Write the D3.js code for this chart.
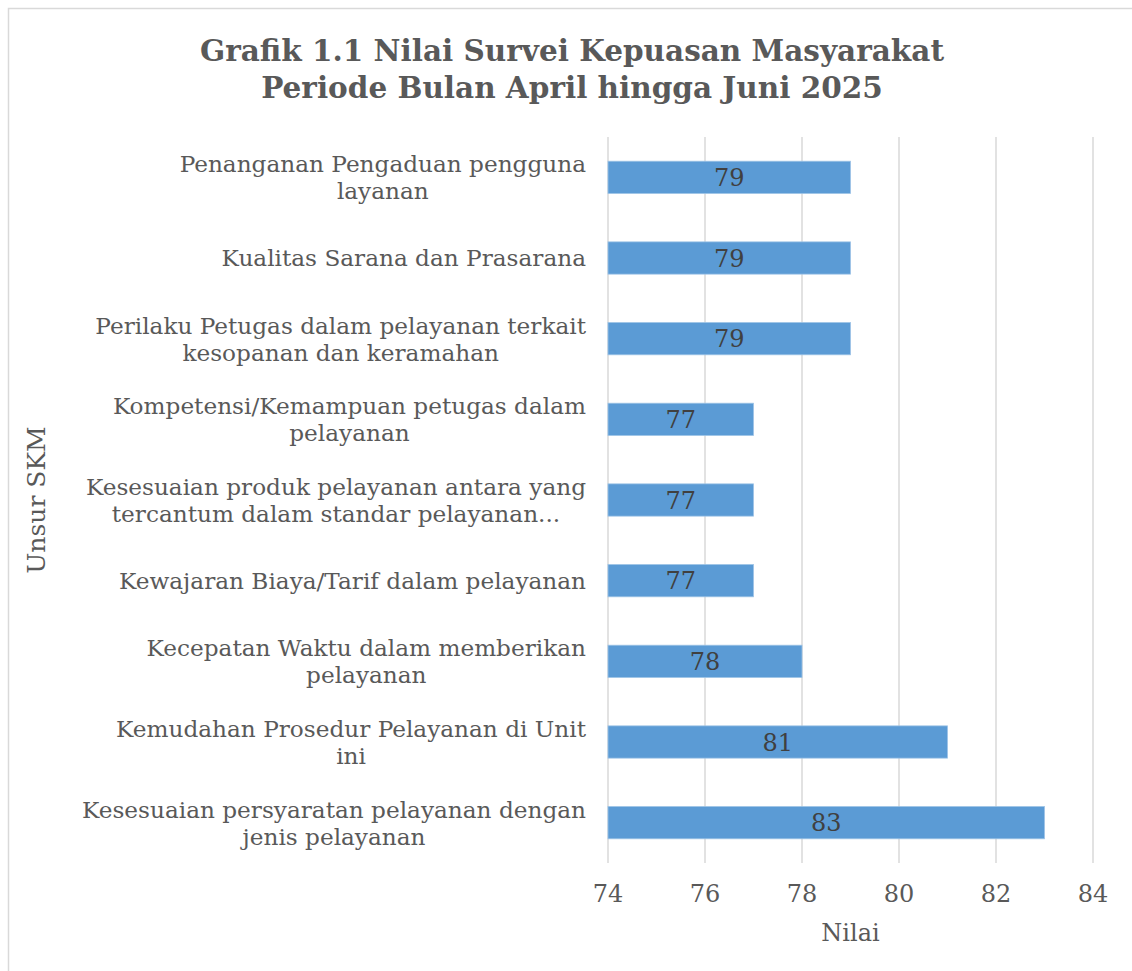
<!DOCTYPE html>
<html>
<head>
<meta charset="utf-8">
<script src="https://cdn.jsdelivr.net/npm/d3@7"></script>
<style>
  body { margin: 0; background: #fff; }
  svg { display: block; font-family: "DejaVu Serif", serif; }
</style>
</head>
<body>
<div id="viz-container"></div>
<script>
// unsur SKM, top to bottom as drawn
const categories = [
    ["Penanganan Pengaduan pengguna", "layanan"],
    ["Kualitas Sarana dan Prasarana"],
    ["Perilaku Petugas dalam pelayanan terkait", "kesopanan dan keramahan"],
    ["Kompetensi/Kemampuan petugas dalam", "pelayanan"],
    ["Kesesuaian produk pelayanan antara yang", "tercantum dalam standar pelayanan..."],
    ["Kewajaran Biaya/Tarif dalam pelayanan"],
    ["Kecepatan Waktu dalam memberikan", "pelayanan"],
    ["Kemudahan Prosedur Pelayanan di Unit", "ini"],
    ["Kesesuaian persyaratan pelayanan dengan", "jenis pelayanan"]
];
const values = [79, 79, 79, 77, 77, 77, 78, 81, 83];
const xTicks = [74, 76, 78, 80, 82, 84];
const titleLines = ["Grafik 1.1 Nilai Survei Kepuasan Masyarakat", "Periode Bulan April hingga Juni 2025"];

const width = 1132;
const height = 971;
const plot = { left: 608, right: 1093, top: 137, bottom: 863 };

const svg = d3.select('#viz-container')
    .append("svg")
    .attr("width", width)
    .attr("height", height);

// chart area border (runs off the right and bottom)
svg.append("rect")
    .attr("x", 8.5).attr("y", 8.5)
    .attr("width", width).attr("height", height)
    .attr("fill", "#fff")
    .attr("stroke", "#d9d9d9")
    .attr("stroke-width", 1.5);

const x = d3.scaleLinear()
    .domain([74, 84])
    .range([plot.left, plot.right]);

const y = d3.scaleBand()
    .domain(d3.range(values.length))
    .range([plot.top, plot.bottom])
    .paddingInner(0.6)
    .paddingOuter(0.3);

// gridlines
svg.append("g")
    .selectAll("line")
    .data(xTicks)
    .join("line")
    .attr("x1", d => x(d)).attr("x2", d => x(d))
    .attr("y1", plot.top).attr("y2", plot.bottom)
    .attr("stroke", "#d9d9d9")
    .attr("stroke-width", 1.5);

// bars
svg.append("g")
    .selectAll("rect")
    .data(values)
    .join("rect")
    .attr("x", x(74))
    .attr("y", (d, i) => y(i))
    .attr("width", d => x(d) - x(74))
    .attr("height", y.bandwidth())
    .attr("fill", "#5b9bd5")
    .attr("stroke", "#9dc3e6")
    .attr("stroke-width", 0.8);

// data labels
svg.append("g")
    .selectAll("text")
    .data(values)
    .join("text")
    .attr("x", d => (x(74) + x(d)) / 2)
    .attr("y", (d, i) => y(i) + y.bandwidth() / 2)
    .attr("dy", "0.36em")
    .attr("text-anchor", "middle")
    .attr("font-size", 24)
    .attr("fill", "#404040")
    .text(d => d);

// x tick labels
svg.append("g")
    .selectAll("text")
    .data(xTicks)
    .join("text")
    .attr("x", d => x(d))
    .attr("y", 893)
    .attr("dy", "0.36em")
    .attr("text-anchor", "middle")
    .attr("font-size", 24)
    .attr("fill", "#595959")
    .text(d => d);

// category labels: block right-aligned, lines centred in the block
const labelRight = 586;
const lineH = 27;
const catG = svg.append("g");
categories.forEach((lines, i) => {
    const cy = y(i) + y.bandwidth() / 2;
    const g = catG.append("g");
    const texts = lines.map((t, j) => g.append("text")
        .attr("y", cy + (j - (lines.length - 1) / 2) * lineH)
        .attr("dy", "0.36em")
        .attr("font-size", 23.2)
        .attr("fill", "#595959")
        .attr("text-anchor", "middle")
        .text(t));
    const maxW = d3.max(texts, t => t.node().getComputedTextLength());
    texts.forEach(t => t.attr("x", labelRight - maxW / 2));
});

// axis titles
svg.append("text")
    .attr("x", (plot.left + plot.right) / 2)
    .attr("y", 932)
    .attr("dy", "0.36em")
    .attr("text-anchor", "middle")
    .attr("font-size", 24)
    .attr("fill", "#595959")
    .text("Nilai");

svg.append("text")
    .attr("transform", "translate(36," + ((plot.top + plot.bottom) / 2) + ") rotate(-90)")
    .attr("dy", "0.36em")
    .attr("text-anchor", "middle")
    .attr("font-size", 25)
    .attr("fill", "#595959")
    .text("Unsur SKM");

// chart title
svg.append("g")
    .selectAll("text")
    .data(titleLines)
    .join("text")
    .attr("x", 572)
    .attr("y", (d, i) => 50 + i * 37)
    .attr("dy", "0.36em")
    .attr("text-anchor", "middle")
    .attr("font-size", 29.5)
    .attr("font-weight", "bold")
    .attr("fill", "#595959")
    .text(d => d);
</script>
</body>
</html>
